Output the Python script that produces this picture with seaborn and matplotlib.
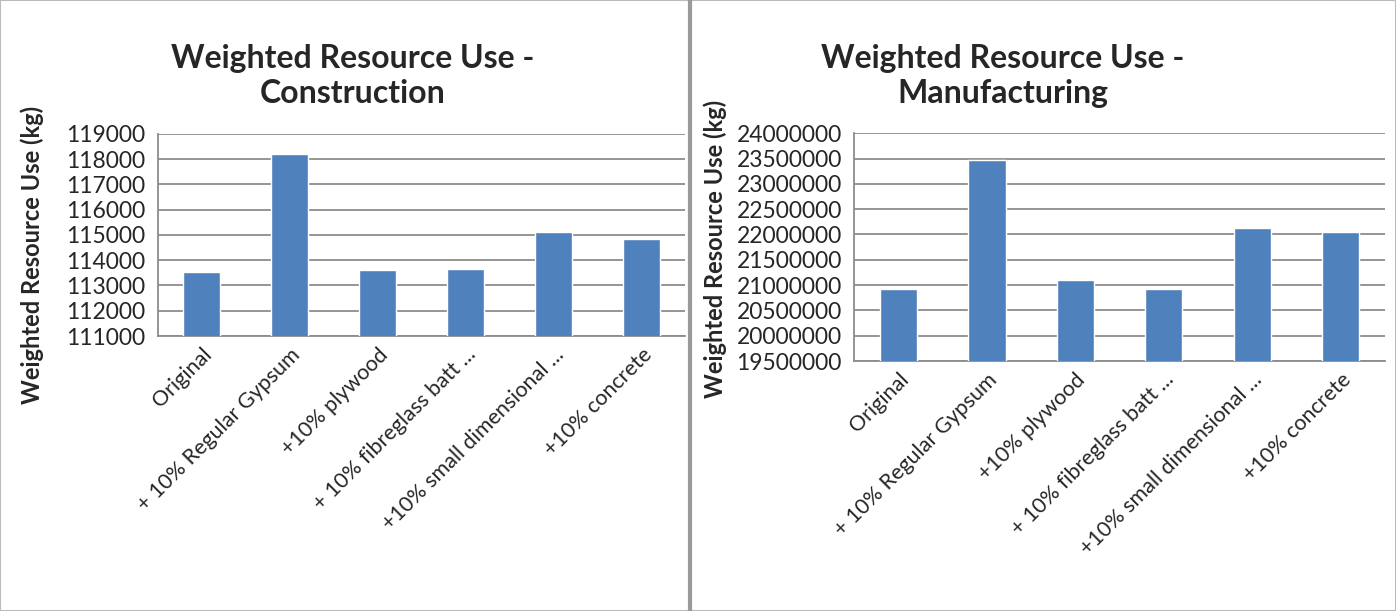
import numpy as np
import pandas as pd
import matplotlib
matplotlib.use("Agg")
import matplotlib.pyplot as plt
import seaborn as sns
from matplotlib.lines import Line2D

# categories and values
categories = [
    "Original",
    "+ 10% Regular Gypsum",
    "+10% plywood",
    "+ 10% fibreglass batt ...",
    "+10% small dimensional ...",
    "+10% concrete",
]
construction = [113550, 118200, 113600, 113650, 115100, 114850]
manufacturing = [20920000, 23480000, 21100000, 20920000, 22120000, 22040000]

construction_ticks = list(range(111000, 119001, 1000))
manufacturing_ticks = list(range(19500000, 24000001, 500000))

BAR_COLOR = "#4F81BD"
GRID_COLOR = "#8C8C8C"

sns.set_style("white")
plt.rcParams["font.family"] = ["Lato", "DejaVu Sans"]


def draw_panel(ax, values, ticks, title):
    df = pd.DataFrame({"cat": categories, "val": values})
    sns.barplot(data=df, x="cat", y="val", color=BAR_COLOR, width=0.42,
                saturation=1, ax=ax, zorder=3)
    ax.set_ylim(ticks[0], ticks[-1])
    ax.set_xlim(-0.5, len(categories) - 0.5)
    ax.set_yticks(ticks)
    ax.set_yticklabels([str(t) for t in ticks], fontsize=16.5)
    ax.yaxis.grid(True, color=GRID_COLOR, linewidth=1.3, zorder=0)
    ax.set_axisbelow(True)
    # excel style ticks between categories
    ax.set_xticks(np.arange(len(categories)))
    ax.set_xticks(np.arange(len(categories) + 1) - 0.5, minor=True)
    ax.tick_params(axis="x", which="major", length=0, pad=6)
    ax.tick_params(axis="x", which="minor", length=7, color=GRID_COLOR, width=1.3)
    ax.tick_params(axis="y", length=7, color=GRID_COLOR, width=1.3, pad=2)
    ax.set_xticklabels(categories, rotation=45, ha="right",
                       rotation_mode="anchor", fontsize=15.5)
    for s in ["top", "right"]:
        ax.spines[s].set_visible(False)
    for s in ["left", "bottom"]:
        ax.spines[s].set_color(GRID_COLOR)
        ax.spines[s].set_linewidth(1.3)
    ax.set_xlabel("")
    ax.set_ylabel("Weighted Resource Use (kg)", fontsize=17, fontweight="bold")
    ax.set_title(title, fontsize=23, fontweight="bold", pad=22, linespacing=1.25)


fig = plt.figure(figsize=(13.96, 6.11), dpi=100)
ax1 = fig.add_axes([0.113, 0.450, 0.378, 0.331])
ax2 = fig.add_axes([0.612, 0.409, 0.380, 0.373])

draw_panel(ax1, construction, construction_ticks,
           "Weighted Resource Use -\nConstruction")
draw_panel(ax2, manufacturing, manufacturing_ticks,
           "Weighted Resource Use -\nManufacturing")

ax1.yaxis.set_label_coords(-0.216, 0.40)
ax2.yaxis.set_label_coords(-0.24, 0.49)
ax1.title.set_position((0.37, 1.0))
ax2.title.set_position((0.28, 1.0))

# divider between the two charts
fig.add_artist(Line2D([0.494, 0.494], [0, 1], color="#9A9A9A", linewidth=3,
                      transform=fig.transFigure))
fig.add_artist(plt.Rectangle((0, 0), 1, 1, fill=False, edgecolor="#BBBBBB",
                             linewidth=1.5, transform=fig.transFigure))

fig.savefig("out.png", dpi=100, facecolor="white")
